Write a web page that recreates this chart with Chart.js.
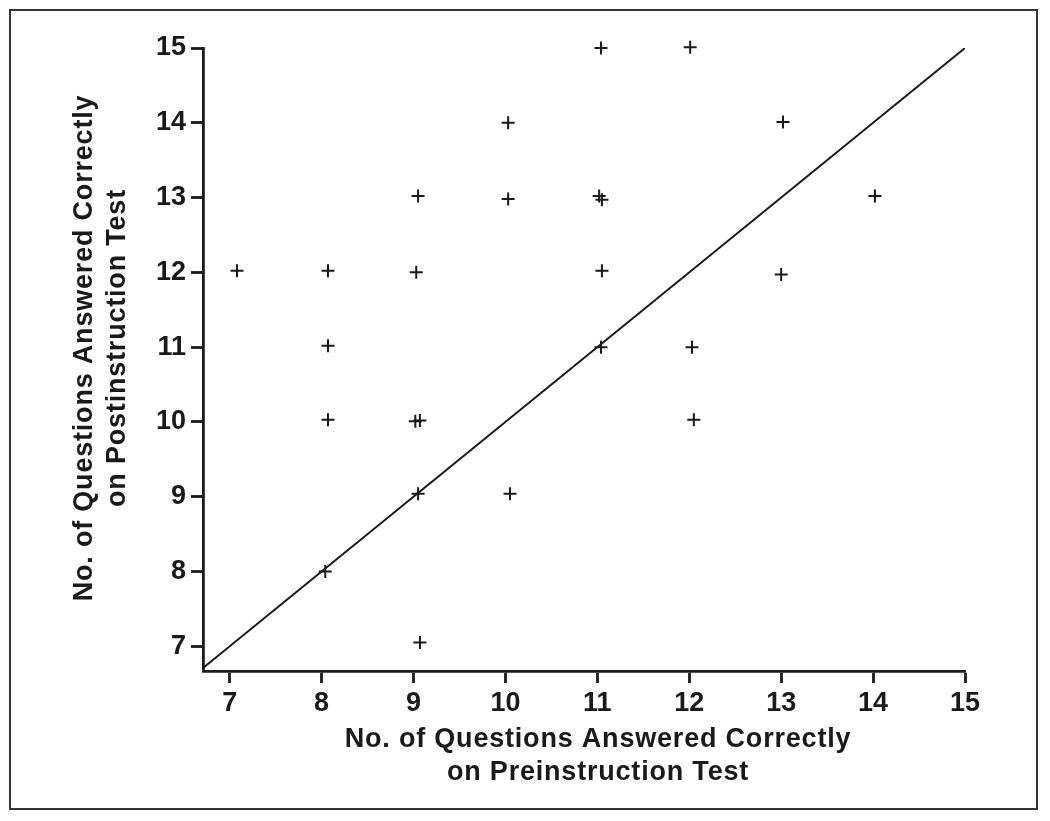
<!DOCTYPE html>
<html><head><meta charset="utf-8">
<script src="https://cdn.jsdelivr.net/npm/chart.js@4/dist/chart.umd.min.js"></script>
<style>
html,body{margin:0;padding:0;background:#fff;}
#wrap{position:relative;width:1050px;height:821px;}
#frame{position:absolute;left:9px;top:9px;width:1029px;height:801px;box-sizing:border-box;border:2px solid #333;pointer-events:none;}
canvas{position:absolute;left:0;top:0;}
</style>
</head><body>
<div id="wrap"><canvas id="c" width="1050" height="821"></canvas><div id="frame"></div></div>
<script>
// Data (small offsets are the jitter visible in the original)
const preScores  = [7.08, 8.07, 8.07, 8.07, 8.04, 9.05, 9.03, 9.02, 9.07, 9.05, 9.07, 10.03, 10.03, 10.05, 11.04, 11.02, 11.05, 11.05, 11.04, 12.01, 12.03, 12.05, 13.02, 13.0, 14.02];
const postScores = [12.02, 12.02, 11.02, 10.03, 8.0, 13.02, 12.0, 10.01, 10.02, 9.04, 7.05, 14.0, 12.98, 9.04, 15.0, 13.02, 12.97, 12.02, 11.0, 15.01, 11.0, 10.03, 14.01, 11.97, 13.02];
const xTickValues = [7, 8, 9, 10, 11, 12, 13, 14, 15];
const yTickValues = [7, 8, 9, 10, 11, 12, 13, 14, 15];
const identityLine = [6.6, 15];
const xTitleLines = ['No. of Questions Answered Correctly', 'on Preinstruction Test'];
const yTitleLines = ['No. of Questions Answered Correctly', 'on Postinstruction Test'];

const FONT = '"Liberation Sans", Arial, Helvetica, sans-serif';

const titlePlugin = {
  id: 'axisTitles',
  afterDraw(chart) {
    const ctx = chart.ctx;
    ctx.save();
    ctx.fillStyle = '#1a1a1a';
    ctx.font = 'bold 27px ' + FONT;
    try { ctx.letterSpacing = '0.8px'; } catch (e) {}
    ctx.textAlign = 'center';
    ctx.textBaseline = 'middle';
    ctx.fillText(xTitleLines[0], 598, 740);
    ctx.fillText(xTitleLines[1], 598, 773);
    ctx.translate(0, 348);
    ctx.rotate(-Math.PI / 2);
    ctx.fillText(yTitleLines[0], 0, 85);
    ctx.fillText(yTitleLines[1], 0, 118);
    ctx.restore();
  }
};

new Chart(document.getElementById('c'), {
  data: {
    datasets: [
      {
        type: 'scatter',
        data: preScores.map((x, i) => ({x: x, y: postScores[i]})),
        pointStyle: 'cross',
        pointRadius: 6.5,
        pointHoverRadius: 6.5,
        borderColor: '#1a1a1a',
        backgroundColor: '#1a1a1a',
        pointBorderWidth: 2,
        clip: false
      },
      {
        type: 'line',
        data: identityLine.map(v => ({x: v, y: v})),
        borderColor: '#1a1a1a',
        borderWidth: 2,
        pointRadius: 0,
        fill: false
      }
    ]
  },
  options: {
    responsive: false,
    animation: false,
    events: [],
    layout: {padding: {left: 0, right: 85, top: 48, bottom: 0}},
    plugins: {legend: {display: false}, tooltip: {enabled: false}},
    scales: {
      x: {
        type: 'linear',
        min: 6.71,
        max: 15,
        afterBuildTicks: s => { s.ticks = xTickValues.map(v => ({value: v})); },
        afterFit: s => { s.height = 150; },
        grid: {display: true, drawOnChartArea: false, drawTicks: true, tickLength: 12, tickWidth: 2.8, tickColor: '#1a1a1a'},
        border: {display: true, color: '#1a1a1a', width: 2.8},
        ticks: {color: '#1a1a1a', padding: 4, font: {family: FONT, size: 27, weight: 'bold'}, maxRotation: 0}
      },
      y: {
        type: 'linear',
        min: 6.67,
        max: 15,
        afterBuildTicks: s => { s.ticks = yTickValues.map(v => ({value: v})); },
        afterFit: s => { s.width = 203; },
        grid: {display: true, drawOnChartArea: false, drawTicks: true, tickLength: 12, tickWidth: 2.8, tickColor: '#1a1a1a'},
        border: {display: true, color: '#1a1a1a', width: 2.8},
        ticks: {color: '#1a1a1a', padding: 5, font: {family: FONT, size: 27, weight: 'bold'}}
      }
    }
  },
  plugins: [titlePlugin]
});
</script>
</body></html>
